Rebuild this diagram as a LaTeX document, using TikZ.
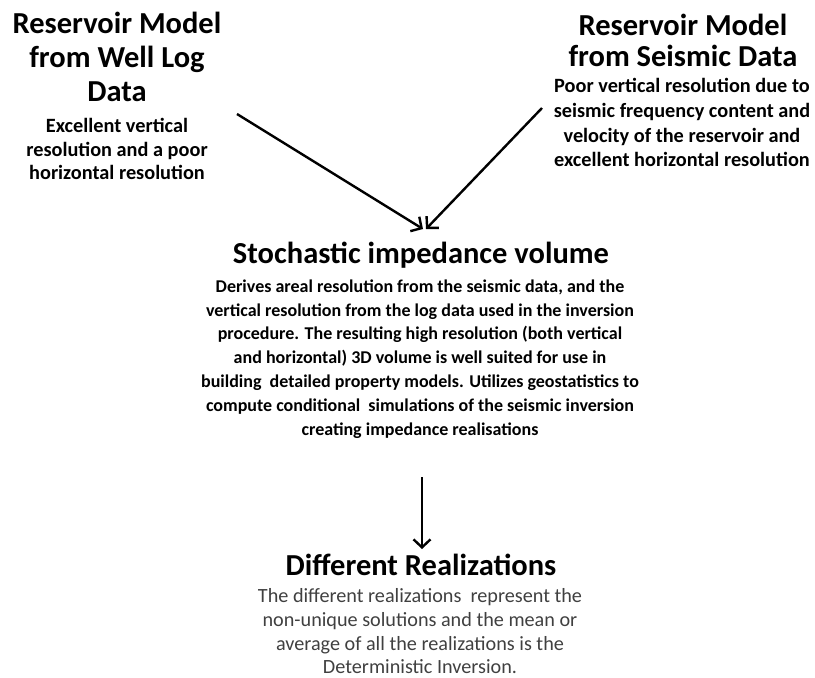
\documentclass[tikz,border=0pt]{standalone}
\usepackage{fontspec}
\setmainfont{Carlito}
\usetikzlibrary{arrows.meta}
\definecolor{greytext}{HTML}{404040}
\tikzset{
  head/.style={anchor=base,inner sep=0pt,font=\bfseries\fontsize{30.5}{34}\selectfont},
  side/.style={anchor=base,inner sep=0pt,font=\bfseries\fontsize{20.3}{24}\selectfont},
  body/.style={anchor=base,inner sep=0pt,font=\bfseries\fontsize{18}{22}\selectfont},
  grey/.style={anchor=base,inner sep=0pt,text=greytext,font=\fontsize{20.2}{24}\selectfont},
  conn/.style={line width=2.4pt,-{Straight Barb[length=8pt,width=17pt,line width=2.4pt]}}
}
\begin{document}
\begin{tikzpicture}[x=1pt,y=-1pt]
\useasboundingbox (0,0) rectangle (815,678);
% left block
\node[head] (l1) at (117,33) {Reservoir Model};
\node[head] (l2) at (117,67) {from Well Log};
\node[head] (l3) at (117,101) {Data};
\node[side] (l4) at (117,132) {Excellent vertical};
\node[side] (l5) at (117,156) {resolution and a poor};
\node[side] (l6) at (117,179) {horizontal resolution};
% right block
\node[head] (r1) at (683,35) {Reservoir Model};
\node[head] (r2) at (683,66) {from Seismic Data};
\node[side] (r3) at (682,92) {Poor vertical resolution due to};
\node[side] (r4) at (682,117) {seismic frequency content and};
\node[side] (r5) at (682,142) {velocity of the reservoir and};
\node[side] (r6) at (682,166) {excellent horizontal resolution};
% middle block
\node[head] (s0) at (421,263) {Stochastic impedance volume};
\node[body] (s1) at (420,292) {Derives areal resolution from the seismic data, and the};
\node[body] (s2) at (420,316) {vertical resolution from the log data used in the inversion};
\node[body] (s3) at (420,339) {procedure. The resulting high resolution (both vertical};
\node[body] (s4) at (420,363) {and horizontal) 3D volume is well suited for use in};
\node[body] (s5) at (420,387) {building~ detailed property models. Utilizes geostatistics to};
\node[body] (s6) at (420,411) {compute conditional~ simulations of the seismic inversion};
\node[body] (s7) at (420,435) {creating impedance realisations};
% bottom block
\node[head] (d0) at (421,575) {Different Realizations};
\node[grey] (d1) at (420,602) {The different realizations~ represent the};
\node[grey] (d2) at (420,626) {non-unique solutions and the mean or};
\node[grey] (d3) at (420,650) {average of all the realizations is the};
\node[grey] (d4) at (420,673) {Deterministic Inversion.};
% connectors
\coordinate (la) at (237,114);
\coordinate (lb) at (423,229);
\coordinate (ra) at (542,108);
\coordinate (rb) at (426,229);
\coordinate (da) at (422,477);
\coordinate (db) at (422,549);
\draw[conn] (la) -- (lb);
\draw[conn] (ra) -- (rb);
\draw[conn] (da) -- (db);
\end{tikzpicture}
\end{document}
